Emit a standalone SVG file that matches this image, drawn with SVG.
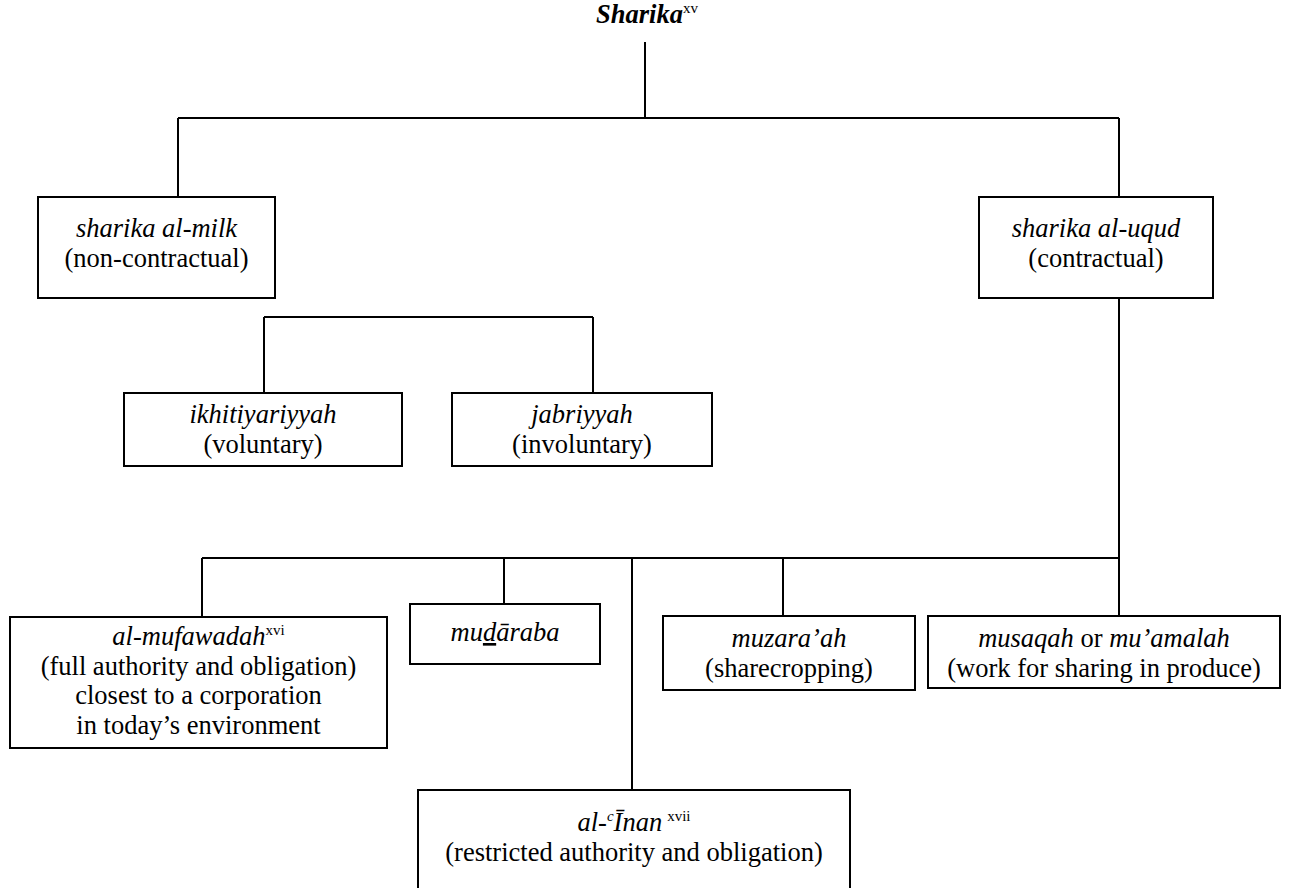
<svg xmlns="http://www.w3.org/2000/svg" width="1293" height="888" viewBox="0 0 1293 888">
<style>
text{font-family:"Liberation Serif","Times New Roman",serif;font-size:26.5px;fill:#000;text-anchor:middle}
.i{font-style:italic}
.sup{font-size:15px;font-style:normal;font-weight:normal}
rect{fill:#fff;stroke:#000;stroke-width:2}
#connectors path{fill:none;stroke:#000;stroke-width:2}
</style>
<rect x="0" y="0" width="1293" height="888" style="stroke:none"/>
<g id="connectors">
<path d="M645 42V118M178 118H1119M178 118V197M1119 118V197"/>
<path d="M264 317H593M264 317V393M593 317V393"/>
<path d="M1119 298V616M202 558H1119M202 558V617M504 558V604M632 558V790M783 558V616"/>
</g>
<g id="sharika">
<text x="596" y="23" style="font-weight:bold;text-anchor:start"><tspan class="i">Sharika</tspan><tspan class="sup" dy="-10">xv</tspan></text>
</g>
<g id="milk">
<rect x="38" y="197" width="237" height="101"/>
<text x="156.5" y="237" class="i">sharika al-milk</text>
<text x="156.5" y="266.5">(non-contractual)</text>
</g>
<g id="uqud">
<rect x="979" y="197" width="234" height="101"/>
<text x="1096" y="237" class="i">sharika al-uqud</text>
<text x="1096" y="266.5">(contractual)</text>
</g>
<g id="ikhitiyariyyah">
<rect x="124" y="393" width="278" height="73"/>
<text x="263" y="423" class="i">ikhitiyariyyah</text>
<text x="263" y="452.5">(voluntary)</text>
</g>
<g id="jabriyyah">
<rect x="452" y="393" width="260" height="73"/>
<text x="582" y="423" class="i">jabriyyah</text>
<text x="582" y="452.5">(involuntary)</text>
</g>
<g id="mufawadah">
<rect x="10" y="617" width="377" height="131"/>
<text x="198.5" y="645"><tspan class="i">al-mufawadah</tspan><tspan class="sup" dy="-10">xvi</tspan></text>
<text x="198.5" y="674.5">(full authority and obligation)</text>
<text x="198.5" y="704">closest to a corporation</text>
<text x="198.5" y="733.5">in today’s environment</text>
</g>
<g id="mudaraba">
<rect x="410" y="604" width="190" height="60"/>
<text x="505" y="641" class="i">mu<tspan style="text-decoration:underline">d</tspan>āraba</text>
</g>
<g id="muzaraah">
<rect x="663" y="616" width="252" height="74"/>
<text x="789" y="647" class="i">muzara’ah</text>
<text x="789" y="676.5">(sharecropping)</text>
</g>
<g id="musaqah">
<rect x="928" y="616" width="352" height="72"/>
<text x="1104" y="647"><tspan class="i">musaqah</tspan> or <tspan class="i">mu’amalah</tspan></text>
<text x="1104" y="676.5">(work for sharing in produce)</text>
</g>
<g id="inan">
<rect x="418" y="790" width="432" height="104"/>
<text x="634" y="831"><tspan class="i">al-</tspan><tspan class="i" dy="-10" style="font-size:15px">c</tspan><tspan class="i" dy="10">Īnan</tspan><tspan class="sup" dx="5" dy="-10">xvii</tspan></text>
<text x="634" y="860.5">(restricted authority and obligation)</text>
</g>
</svg>
